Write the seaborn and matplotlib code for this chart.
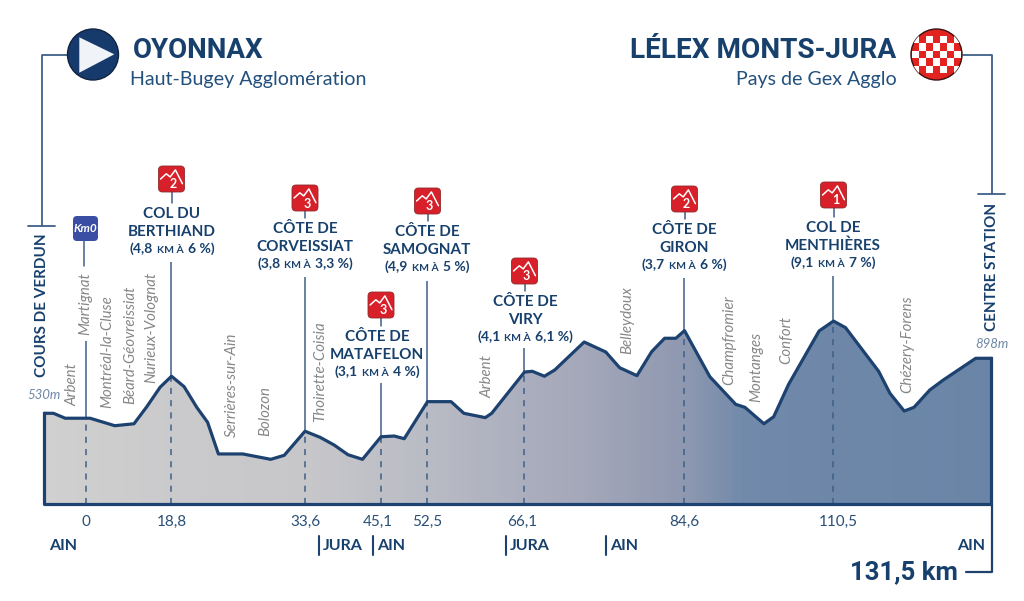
import numpy as np
import pandas as pd
import matplotlib
matplotlib.use('Agg')
import matplotlib.pyplot as plt
import seaborn as sns
from matplotlib.colors import LinearSegmentedColormap
from matplotlib.patches import Circle, FancyBboxPatch, Polygon, Rectangle
from matplotlib.path import Path
from matplotlib.transforms import ScaledTranslation

# profile
km = [-9.3, -7.1, -4.5, 1.0, 6.4, 10.6, 13.4, 16.3, 18.8, 20.2, 21.6, 22.8, 24.0, 26.7, 29.8, 31.3,
      33.6, 35.9, 38.0, 40.1, 42.3, 45.1, 47.2, 48.8, 52.5, 55.8, 57.6, 60.6, 61.5, 66.1, 67.0, 68.4,
      69.6, 73.0, 75.5, 77.1, 79.1, 80.8, 82.3, 83.6, 84.6, 89.0, 93.5, 95.1, 98.4, 100.1, 102.7,
      108.0, 110.5, 112.1, 116.5, 118.0, 119.9, 121.2, 123.3, 125.1, 129.4, 131.5]
alt = [530, 530, 497, 497, 447, 460, 574, 704, 778, 708, 570, 470, 258, 258, 222, 249,
       410, 369, 318, 253, 222, 373, 378, 360, 608, 608, 530, 501, 530, 806, 811, 778,
       820, 1007, 940, 835, 782, 942, 1032, 1032, 1083, 775, 590, 570, 460, 507, 724,
       1081, 1147, 1103, 811, 664, 545, 570, 686, 753, 898, 898]

climb_names = [['COL DU', 'BERTHIAND'], ['CÔTE DE', 'CORVEISSIAT'], ['CÔTE DE', 'MATAFELON'], ['CÔTE DE', 'SAMOGNAT'],
               ['CÔTE DE', 'VIRY'], ['CÔTE DE', 'GIRON'], ['COL DE', 'MENTHIÈRES']]
climb_km = [18.8, 33.6, 45.1, 52.5, 66.1, 84.6, 110.5]
climb_alt = [778, 410, 373, 608, 806, 1083, 1147]
climb_cat = ['2', '3', '3', '3', '3', '2', '1']
climb_len = ['4,8', '3,8', '3,1', '4,9', '4,1', '3,7', '9,1']
climb_grade = ['6', '3,3', '4', '5', '6,1', '6', '7']

tick_km = [0, 18.8, 33.6, 45.1, 52.5, 66.1, 84.6, 110.5]
tick_labels = ['0', '18,8', '33,6', '45,1', '52,5', '66,1', '84,6', '110,5']

towns = ['Arbent', 'Martignat', 'Montréal-la-Cluse', 'Béard-Géovreissiat', 'Nurieux-Volognat', 'Serrières-sur-Ain',
         'Bolozon', 'Thoirette-Coisia', 'Arbent', 'Belleydoux', 'Champfromier', 'Montanges', 'Confort', 'Chézery-Forens']

NAVY = '#17406d'
LINE = '#1d4270'
STEM = '#3f5f88'
GREY = '#858789'

# the road is not to scale on the original, km -> pixel is piecewise
km_anchor = [-9.3, 0, 18.8, 33.6, 45.1, 52.5, 66.1, 84.6, 110.5, 131.5]
px_anchor = [43.5, 85.5, 171.5, 305, 381, 427.5, 524.5, 684.5, 833.5, 991.5]


def km_to_px(v):
    return np.interp(v, km_anchor, px_anchor)


def px_to_km(v):
    return np.interp(v, px_anchor, km_anchor)


def alt_at(py):
    return 530 + (413.3 - py) * 6.69


sns.set_theme(style='white')
plt.rcParams['font.family'] = ['Lato', 'DejaVu Sans']

fig = plt.figure(figsize=(10.24, 6.01), dpi=100)
ax = fig.add_axes([43.5 / 1024, (601 - 504) / 601, 948 / 1024, 204 / 601])
ax.set_xscale('function', functions=(km_to_px, px_to_km))
ax.patch.set_visible(False)
base = alt_at(504)

# gradient under the profile
stops = [(-9.3, '#d0d0d0'), (33.6, '#c7c7ca'), (52.5, '#b9bbc4'), (73, '#a3a7b9'), (84.6, '#8e98b0'),
         (95, '#7189aa'), (131.5, '#6a85a7')]
cmap = LinearSegmentedColormap.from_list('road', [((k + 9.3) / 140.8, c) for k, c in stops])
grid = np.linspace(km[0], km[-1], 400)
mesh = ax.pcolormesh(grid, [base, alt_at(300)], ((grid[:-1] + 9.3) / 140.8).reshape(1, -1), cmap=cmap, vmin=0, vmax=1)
shape = Path(np.column_stack([[km[0]] + km + [km[-1]], [base] + alt + [base]]))
mesh.set_clip_path(shape, ax.transData)

ax.vlines(climb_km + [0], base, climb_alt + [497], color=STEM, lw=1.1, linestyles=(0, (4, 4)), zorder=3)

df = pd.DataFrame({'km': km, 'alt': alt})
sns.lineplot(data=df, x='km', y='alt', ax=ax, color=LINE, lw=2.3, sort=False, errorbar=None, zorder=5)
ax.plot([km[0], km[0], km[-1], km[-1]], [alt[0], base, base, alt[-1]], color=LINE, lw=2.3, clip_on=False, zorder=5,
        solid_capstyle='projecting')

# stems going up from the summits
stem_top = [262, 277, 383, 281, 348, 278, 276]
ax.vlines(climb_km + [0], climb_alt + [497], [alt_at(p) for p in stem_top] + [alt_at(341)], color=STEM, lw=1.1, clip_on=False)

ax.set_xlim(km[0], km[-1])
ax.set_ylim(base, alt_at(300))
ax.set_yticks([])
ax.set_xticks(tick_km)
ax.set_xticklabels(tick_labels)
ax.tick_params(axis='x', length=0, pad=8, labelsize=11, labelcolor='#2a5078')
ax.set_xlabel('')
ax.set_ylabel('')
sns.despine(ax=ax, left=True, bottom=True)

# a few km labels are nudged sideways on the original
tick_nudge = [0, 0, 0, -3, 0, -2, 0, 5]
for lab, dx in zip(ax.get_xticklabels(), tick_nudge):
    lab.set_transform(lab.get_transform() + ScaledTranslation(dx / 100, 0, fig.dpi_scale_trans))

# all the lettering sits on an overlay in picture pixels
ov = fig.add_axes([0, 0, 1, 1], zorder=5)
ov.set_xlim(0, 1024)
ov.set_ylim(601, 0)
ov.axis('off')

ov.text(133, 51, 'OYONNAX', fontsize=20, fontweight='bold', family=['Roboto', 'DejaVu Sans'], color=NAVY, ha='left', va='center')
ov.text(130, 79, 'Haut-Bugey Agglomération', fontsize=14.1, color='#24507c', ha='left', va='center')
ov.text(896, 51, 'LÉLEX MONTS-JURA', fontsize=20.2, fontweight='bold', family=['Roboto', 'DejaVu Sans'], color=NAVY, ha='right', va='center')
ov.text(897, 79, 'Pays de Gex Agglo', fontsize=14.1, color='#24507c', ha='right', va='center')

# start and finish brackets
ov.plot([67, 41.5, 41.5], [54.5, 54.5, 226], color=STEM, lw=1.3)
ov.plot([28, 55], [226, 226], color=STEM, lw=1.3)
ov.plot([963, 991.5, 991.5], [54.5, 54.5, 194], color=STEM, lw=1.3)
ov.plot([978, 1005], [194, 194], color=STEM, lw=1.3)

ov.add_patch(Circle((93, 54.5), 25.5, fc='#173a6c', ec='#10233f', lw=1, zorder=4))
ov.add_patch(Polygon([(79.3, 37.3), (79.3, 72.7), (114.3, 54.3)], fc='#f0f3f8', ec='none', zorder=5))

flag = Circle((936.5, 54.5), 25.5, fc='#e2231f', ec='#3a1210', lw=1, zorder=4)
ov.add_patch(flag)
for i in range(-2, 3):
    for j in range(-3, 4):
        if (i + j) % 2 == 1:
            sq = Rectangle((936.5 + j * 7 - 3.5, 54.5 + i * 7.4 - 3.7), 7, 7.4, fc='white', ec='none', zorder=5)
            ov.add_patch(sq)
            sq.set_clip_path(flag)

ov.text(42.5, 305.5, 'COURS DE VERDUN', fontsize=11, fontweight='bold', color=NAVY, rotation=90, ha='center', va='center')
ov.text(991.5, 267, 'CENTRE STATION', fontsize=11, fontweight='bold', color=NAVY, rotation=90, ha='center', va='center')
ov.text(44, 395, '530m', fontsize=9.5, style='italic', color='#6f88a6', ha='center', va='center')
ov.text(992, 344, '898m', fontsize=9.5, style='italic', color='#6f88a6', ha='center', va='center')

# towns along the road
town_x = [72, 85, 107, 130, 151, 232, 265, 320, 487, 627, 729, 756, 786, 907]
town_bottom = [406, 335, 408, 404, 383, 437, 436, 422, 398, 354, 385, 402, 364, 393]
for name, x, b in zip(towns, town_x, town_bottom):
    ov.text(x, b, name, fontsize=10.8, style='italic', color=GREY, rotation=90, ha='center', va='bottom')

# km0 flag
ov.add_patch(FancyBboxPatch((75, 218), 21, 21, boxstyle='round,pad=2,rounding_size=4', fc='#3a4fa3', ec='none'))
ov.text(85.5, 228.5, 'Km0', fontsize=8.5, fontweight='bold', style='italic', color='white', ha='center', va='center')
ov.plot([83.5, 83.5], [241, 266], color=STEM, lw=1.1)

# climbs
label_x = [172, 305, 377, 427, 525, 684, 833]
label_y = [214, 229, 337, 232, 302, 230, 228]
box_top = [166, 185, 292, 188, 258, 186, 182]
icon = np.array([(0.08, 0.50), (0.30, 0.30), (0.45, 0.42), (0.65, 0.15), (0.92, 0.68)])
renderer = fig.canvas.get_renderer()

for i in range(len(climb_km)):
    cx = float(km_to_px(climb_km[i]))
    top = box_top[i]
    ov.plot([cx, cx], [top + 25, label_y[i] - 11], color=STEM, lw=1.1)
    ov.add_patch(FancyBboxPatch((cx - 11, top + 2), 22, 22, boxstyle='round,pad=2,rounding_size=4',
                                fc='#d8202a', ec='#8f2a2a', lw=0.6, zorder=4))
    ov.plot(cx - 13 + icon[:, 0] * 26, top + icon[:, 1] * 26, color='white', lw=1.1, zorder=5)
    ov.text(cx + 2, top + 18.5, climb_cat[i], fontsize=9, fontweight='bold', color='white', ha='center', va='center', zorder=5)

    ov.text(label_x[i], label_y[i], climb_names[i][0], fontsize=11, fontweight='bold', color=NAVY, ha='center', va='center')
    ov.text(label_x[i], label_y[i] + 18, climb_names[i][1], fontsize=11, fontweight='bold', color=NAVY, ha='center', va='center')

    # small caps for KM À, so three bits of text centred together
    parts = [('(' + climb_len[i], 10), ('KM À', 7.5), (climb_grade[i] + ' %)', 10)]
    bits = [ov.text(0, label_y[i] + 35, p, fontsize=s, fontweight='bold', color=NAVY, ha='left', va='baseline')
            for p, s in parts]
    widths = [b.get_window_extent(renderer).width for b in bits]
    x = label_x[i] - (sum(widths) + 8) / 2
    for b, w in zip(bits, widths):
        b.set_x(x)
        b.set_y(label_y[i] + 39)
        x += w + 4

# departments
dept = [('AIN', 49), ('JURA', 323), ('AIN', 377), ('JURA', 510), ('AIN', 610), ('AIN', 957)]
for name, x in dept:
    ov.text(x, 545.5, name, fontsize=11.5, fontweight='bold', color=NAVY, ha='left', va='center')
for x in [319, 373, 506, 605.5]:
    ov.plot([x, x], [536, 555], color=LINE, lw=1.5)

ov.text(958, 572, '131,5 km', fontsize=18.5, fontweight='bold', family=['Roboto', 'DejaVu Sans'], color=NAVY, ha='right', va='center')
ov.plot([966, 991.5, 991.5], [572, 572, 504], color=LINE, lw=1.6)

fig.savefig('out.png', dpi=100)
